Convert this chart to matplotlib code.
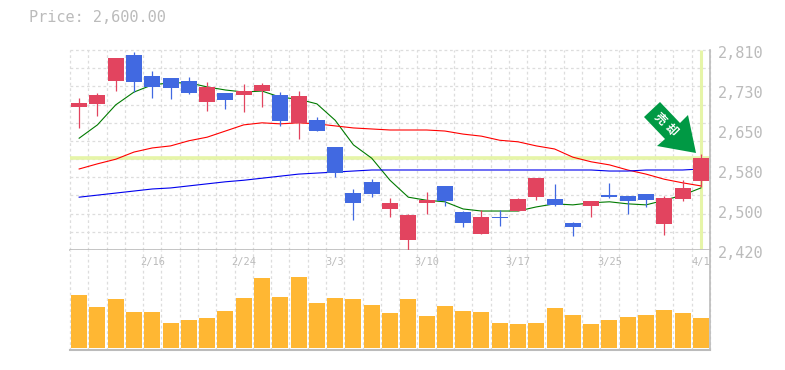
import matplotlib
matplotlib.use('Agg')
import numpy as np
from matplotlib import pyplot as plt
from matplotlib.patches import Polygon
from matplotlib.transforms import ScaledTranslation

dates = ['2/16', '2/24', '3/3', '3/10', '3/17', '3/25', '4/1']
date_idx = [4, 9, 14, 19, 24, 29, 34]

opens = [2699, 2705, 2750, 2800, 2759, 2755, 2750, 2709, 2726, 2722, 2730, 2722, 2668, 2673, 2621,
         2531, 2553, 2500, 2440, 2512, 2545, 2494, 2451, 2484, 2496, 2523, 2519, 2473, 2506, 2527,
         2525, 2529, 2471, 2519, 2555]
closes = [2707, 2722, 2794, 2748, 2738, 2736, 2726, 2738, 2712, 2730, 2742, 2672, 2720, 2652, 2570,
          2512, 2529, 2512, 2488, 2518, 2516, 2473, 2484, 2482, 2519, 2560, 2508, 2465, 2516, 2523,
          2516, 2517, 2521, 2541, 2600]
highs = [2716, 2726, 2794, 2806, 2769, 2755, 2757, 2748, 2726, 2744, 2746, 2728, 2730, 2679, 2621,
         2539, 2558, 2521, 2490, 2533, 2545, 2496, 2498, 2498, 2521, 2560, 2549, 2475, 2516, 2551,
         2525, 2529, 2525, 2556, 2607]
lows = [2658, 2681, 2730, 2728, 2716, 2714, 2724, 2691, 2695, 2689, 2699, 2662, 2636, 2652, 2562,
        2478, 2523, 2484, 2418, 2490, 2506, 2465, 2451, 2467, 2496, 2517, 2506, 2447, 2484, 2521,
        2490, 2504, 2449, 2516, 2543]

ma_short = [2638, 2664, 2703, 2728, 2742, 2746, 2746, 2738, 2732, 2728, 2730, 2718, 2714, 2705, 2673,
            2625, 2599, 2556, 2523, 2517, 2514, 2500, 2496, 2496, 2496, 2504, 2510, 2508,
            2512, 2514, 2510, 2508, 2517, 2527, 2541]
ma_mid = [2578, 2588, 2597, 2611, 2619, 2623, 2633, 2640, 2652, 2664, 2668, 2666, 2668, 2666, 2662,
          2658, 2656, 2654, 2654, 2654, 2652, 2646, 2642, 2634, 2631, 2623, 2617, 2601, 2592, 2586,
          2576, 2568, 2558, 2551, 2545]
ma_long = [2523, 2527, 2531, 2535, 2539, 2541, 2545, 2549, 2553, 2556, 2560, 2564, 2568, 2570, 2572,
           2574, 2576, 2576, 2576, 2576, 2576, 2576, 2576, 2576, 2576, 2576, 2576, 2576, 2576, 2574,
           2574, 2576, 2576, 2576, 2578]
volume = [53, 41, 49, 36, 36, 25, 28, 30, 37, 50, 70, 51, 71, 45, 50, 49, 43, 35,
          49, 32, 42, 37, 36, 25, 24, 25, 40, 33, 24, 28, 31, 33, 38, 35, 30]

price_ticks = [2420, 2498, 2576, 2654, 2732, 2810]
price_labels = ['2,420', '2,500', '2,580', '2,650', '2,730', '2,810']
last_price = 2600

RED = '#e2445f'
BLUE = '#4169e1'
GRID = '#dddddd'
AXIS = '#bbbbbb'
BAND = '#e6f5a8'
MONO = 'DejaVu Sans Mono'

n = len(closes)
x = np.arange(n) + 0.5

fig = plt.figure(figsize=(7.85, 3.70), dpi=100)
W, H = 785, 370
ax = fig.add_axes([70 / W, 1 - 250 / H, 640 / W, 200 / H])
vol = fig.add_axes([70 / W, 1 - 350 / H, 640 / W, 100 / H])

# 价格区
for i in range(n):
    color = RED if closes[i] >= opens[i] else BLUE
    ax.vlines(x[i], lows[i], highs[i], color=color, lw=0.9, zorder=4)
    bottom = min(opens[i], closes[i])
    ax.bar(x[i], abs(closes[i] - opens[i]), 0.88, bottom=bottom, color=color, zorder=5)

ax.plot(x, ma_short, color='#007a00', lw=0.8, zorder=3)
ax.plot(x, ma_mid, color='#ff0000', lw=0.8, zorder=3)
ax.plot(x, ma_long, color='#0000ee', lw=0.8, zorder=3)

ax.axhline(last_price, color=BAND, lw=2.6, zorder=2)
ax.vlines(x[-1], 2421, 2810, color=BAND, lw=2.2, zorder=2)

ax.set_xlim(0, n)
ax.set_ylim(2420, 2810)
ax.set_xticks(np.arange(n + 1))
ax.set_yticks(np.linspace(2420, 2810, 12))
ax.tick_params(length=0, labelbottom=False, labelleft=False)
ax.grid(True, color=GRID, ls=(0, (2.2, 2.2)), lw=0.9)
ax.set_axisbelow(True)
for line in ax.get_xgridlines() + ax.get_ygridlines():
    line.set_clip_on(False)

for s in ['top', 'left']:
    ax.spines[s].set_visible(False)
ax.spines['right'].set_color(AXIS)
ax.spines['bottom'].set_color(AXIS)
ax.spines['bottom'].set_linewidth(1.2)
ax.spines['right'].set_linewidth(1.2)

offset = ScaledTranslation(0, -3.5 / 100, fig.dpi_scale_trans)
for p, lab in zip(price_ticks, price_labels):
    ax.text(1.012, p, lab, transform=ax.get_yaxis_transform() + offset, family=MONO,
            fontsize=11, color=AXIS, va='center', ha='left')

# 成交量
vol.bar(x, volume, 0.88, color='#ffb733', zorder=3)
vol.set_xlim(0, n)
vol.set_ylim(-2, 98)
vol.set_xticks(np.arange(n + 1))
vol.set_yticks([])
vol.tick_params(length=0, labelbottom=False)
vol.grid(True, axis='x', color=GRID, ls=(0, (2.2, 2.2)), lw=0.9)
vol.set_axisbelow(True)
for line in vol.get_xgridlines():
    line.set_clip_on(False)
for s in ['top', 'left']:
    vol.spines[s].set_visible(False)
vol.spines['right'].set_color(AXIS)
vol.spines['bottom'].set_color(AXIS)
vol.spines['right'].set_linewidth(1.2)
vol.spines['bottom'].set_linewidth(1.5)

for i, d in zip(date_idx, dates):
    vol.text(x[i], 86, d, family=MONO, fontsize=7.5, color=AXIS, ha='center', va='center')

fig.text(29 / W, 1 - 18 / H, 'Price: 2,600.00', family=MONO, fontsize=11, color=AXIS, va='center')

# 绿色箭头
arrow = [(660, 102), (644, 117), (665, 139), (657, 146), (696, 153), (688, 115), (680, 123)]
fig.add_artist(Polygon([(a / W, 1 - b / H) for a, b in arrow], closed=True, color='#009944',
                       transform=fig.transFigure, lw=0))
for ch, cx, cy in [('売', 660, 119), ('却', 671, 130)]:
    fig.text(cx / W, 1 - cy / H, ch, family=['Noto Sans CJK JP', 'DejaVu Sans'], fontsize=8.5,
             color='white', rotation=-45, ha='center', va='center', fontweight='bold')

fig.savefig('out.png', dpi=100)
